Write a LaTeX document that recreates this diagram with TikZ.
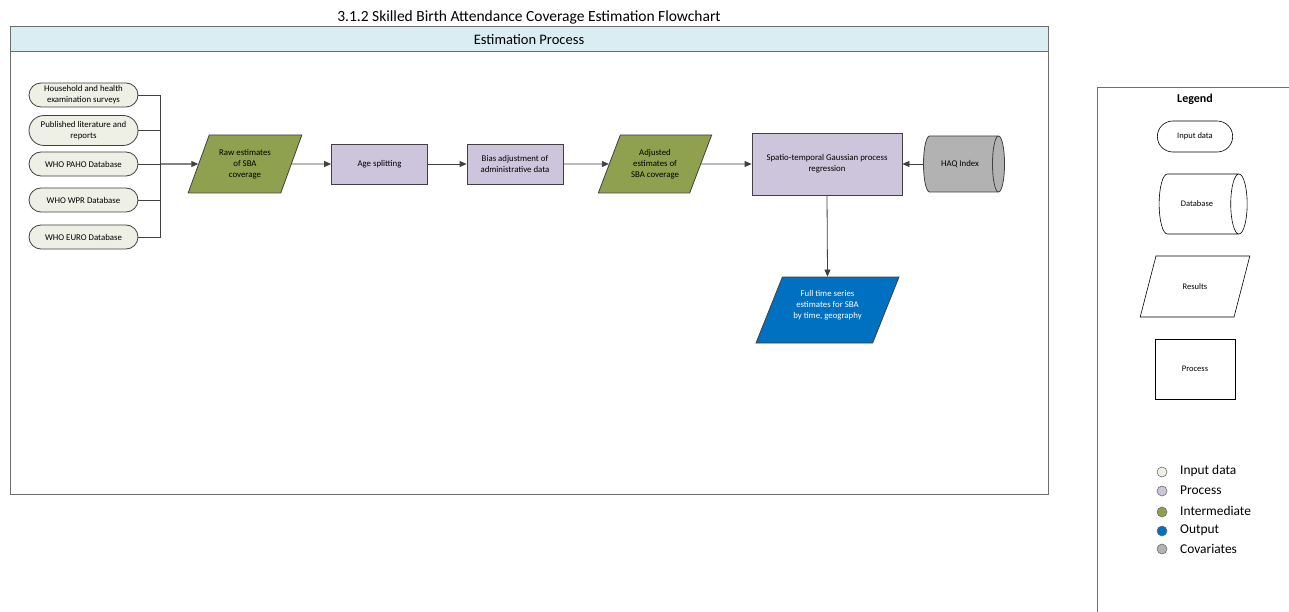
\documentclass[tikz,border=0pt]{standalone}
\usepackage{fontspec}
\setmainfont{Carlito}
\usetikzlibrary{shapes.geometric,shapes.misc,arrows.meta}

\definecolor{inputfill}{HTML}{EEF0E6}
\definecolor{procfill}{HTML}{CDC5DB}
\definecolor{interfill}{HTML}{8FA14F}
\definecolor{outfill}{HTML}{0070C0}
\definecolor{covfill}{HTML}{B2B2B2}
\definecolor{headfill}{HTML}{DAEDF2}
\definecolor{linecol}{HTML}{404040}
\definecolor{framecol}{HTML}{6E6E6E}

\tikzset{
  base/.style={draw=linecol, line width=0.8pt, align=center, inner sep=1pt,
    font=\fontsize{8.8}{11}\selectfont},
  inputbox/.style={base, rounded rectangle, fill=inputfill,
    minimum width=111pt, minimum height=24pt},
  procbox/.style={base, rectangle, fill=procfill},
  resultbox/.style={base, trapezium, trapezium left angle=63.4,
    trapezium right angle=116.6, trapezium stretches=true},
  covbox/.style={base, cylinder, shape border rotate=0, aspect=1.3,
    cylinder uses custom fill, cylinder body fill=covfill,
    cylinder end fill=covfill},
  flow/.style={draw=linecol, line width=0.8pt,
    -{Triangle[length=7pt,width=6pt]}},
  link/.style={draw=linecol, line width=0.8pt},
  legshape/.style={draw=black, line width=0.6pt, fill=white, align=center,
    font=\fontsize{8.5}{10}\selectfont},
  legdot/.style={circle, draw=framecol, line width=0.6pt, minimum size=10pt,
    inner sep=0pt},
  legtext/.style={anchor=west, inner sep=0pt, font=\fontsize{13.4}{15}\selectfont}
}

\begin{document}
\begin{tikzpicture}[x=1pt,y=-1pt]
\useasboundingbox (0,0) rectangle (1289,612);

% title
\node (title) at (529,17) {\fontsize{15.5}{17}\selectfont 3.1.2 Skilled Birth Attendance Coverage Estimation Flowchart};

% swimlane frame with its header band
\draw[framecol, line width=1pt, fill=white] (10,27) rectangle (1048,494);
\draw[framecol, line width=1pt, fill=headfill] (10,27) rectangle (1048,52);
\node (lane) at (529,40) {\fontsize{14.5}{16}\selectfont Estimation Process};

% input data
\node[inputbox] (hh)   at (83.5,95)  {Household and health\\examination surveys};
\node[inputbox, minimum height=30pt] (lit) at (83.5,130.5) {Published literature and\\reports};
\node[inputbox] (paho) at (83.5,164) {WHO PAHO Database};
\node[inputbox] (wpr)  at (83.5,200) {WHO WPR Database};
\node[inputbox] (euro) at (83.5,237) {WHO EURO Database};

% intermediate results and processes
\node[resultbox, fill=interfill, minimum width=114pt, minimum height=58pt] (raw) at (245,164)
  {Raw estimates\\of SBA\\coverage};
\node[procbox, minimum width=96pt, minimum height=40pt] (age) at (379.5,164) {Age splitting};
\node[procbox, minimum width=96pt, minimum height=40pt] (bias) at (515,164)
  {Bias adjustment of\\administrative data};
\node[resultbox, fill=interfill, minimum width=114pt, minimum height=58pt] (adj) at (655,164)
  {Adjusted\\estimates of\\SBA coverage};
\node[procbox, minimum width=150pt, minimum height=62pt] (gpr) at (827,164)
  {Spatio-temporal Gaussian process\\regression};
% cylinder: minimum height runs along the axis
\node[covbox, minimum height=81pt, minimum width=56pt] (haq) at (960,164) {HAQ Index};
\node[resultbox, fill=outfill, text=white, minimum width=143pt, minimum height=66pt] (out)
  at (827.5,310) {Full time series\\estimates for SBA\\by time, geography\\[0pt]};

% connectors
\coordinate (junc) at (160,164);
\draw[link] (hh.east) -- (hh.east -| junc) -- (junc);
\draw[link] (lit.east) -- (lit.east -| junc) -- (junc);
\draw[link] (wpr.east) -- (wpr.east -| junc) -- (junc);
\draw[link] (euro.east) -- (euro.east -| junc) -- (junc);
\draw[link] (paho.east) -- (junc);
\draw[flow, line width=1.1pt] (junc) -- (raw.west);
\draw[flow] (raw.east) -- (age.west);
\draw[flow] (age.east) -- (bias.west);
\draw[flow] (bias.east) -- (adj.west);
\draw[flow] (adj.east) -- (gpr.west);
\draw[flow] (haq.west) -- (gpr.east);
\draw[flow] (gpr.south) -- (out.north);

% legend
\draw[framecol, line width=0.8pt] (1097,620) -- (1097,87) -- (1300,87);
\node (legtitle) at (1195,99) {\fontsize{12}{14}\selectfont\bfseries Legend};
\node[legshape, rounded rectangle, minimum width=82pt, minimum height=31pt] (lin) at (1195,136.5) {Input data};
\node[legshape, cylinder, shape border rotate=0, aspect=1.3,
  minimum height=88pt, minimum width=60pt] (ldb) at (1197,204) {Database};
\node[legshape, trapezium, trapezium left angle=63.4, trapezium right angle=116.6,
  trapezium stretches=true, minimum width=110pt, minimum height=61pt] (lres) at (1195,286.5) {Results};
\node[legshape, rectangle, minimum width=80pt, minimum height=60pt] (lproc) at (1195,369) {Process};

\node[legdot, fill=inputfill] (d1) at (1162,472) {};
\node[legdot, fill=procfill]  (d2) at (1162,491) {};
\node[legdot, fill=interfill] (d3) at (1162,512) {};
\node[legdot, fill=outfill]   (d4) at (1162,531) {};
\node[legdot, fill=covfill]   (d5) at (1162,549) {};
\node[legtext] (t1) at (1180,471) {Input data};
\node[legtext] (t2) at (1180,490) {Process};
\node[legtext] (t3) at (1180,511) {Intermediate};
\node[legtext] (t4) at (1180,530) {Output};
\node[legtext] (t5) at (1180,549) {Covariates};
\end{tikzpicture}
\end{document}
